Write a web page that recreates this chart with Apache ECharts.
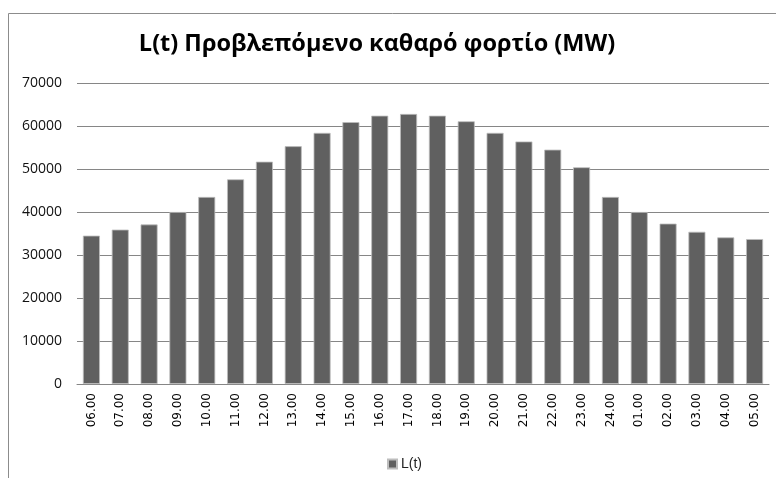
<!DOCTYPE html>
<html>
<head>
<meta charset="utf-8">
<script src="https://cdn.jsdelivr.net/npm/echarts@6/dist/echarts.min.js"></script>
<style>
  html, body { margin: 0; padding: 0; background: #fff; }
  #chart { width: 776px; height: 478px; }
</style>
</head>
<body>
<div id="chart"></div>
<script>
// Hourly forecast of net load L(t), in MW
const hours = ['06.00','07.00','08.00','09.00','10.00','11.00','12.00','13.00','14.00','15.00','16.00','17.00',
               '18.00','19.00','20.00','21.00','22.00','23.00','24.00','01.00','02.00','03.00','04.00','05.00'];
const loadMW = [34500, 35900, 37100, 40000, 43500, 47600, 51700, 55300, 58400, 60900, 62400, 62800,
                62400, 61100, 58400, 56400, 54500, 50400, 43500, 40000, 37300, 35400, 34100, 33700];
const yTicks = { min: 0, max: 70000, step: 10000 };

const chart = echarts.init(document.getElementById('chart'), null, { renderer: 'canvas' });

chart.setOption({
  animation: false,
  backgroundColor: '#ffffff',
  graphic: [{
    type: 'rect',
    shape: { x: 8.5, y: 13.5, width: 800, height: 500 },
    style: { fill: 'none', stroke: '#8c8c8c', lineWidth: 1 },
    silent: true
  }],
  title: {
    text: 'L(t) Προβλεπόμενο καθαρό φορτίο (MW)',
    left: 372,
    textAlign: 'center',
    top: 27,
    textStyle: { fontFamily: 'Open Sans', fontWeight: 'bold', fontSize: 23.5, color: '#000' }
  },
  legend: {
    data: ['L(t)'],
    left: 382,
    top: 452,
    itemWidth: 9,
    itemHeight: 9,
    itemGap: 4,
    icon: 'rect',
    textStyle: { fontFamily: 'Liberation Sans', fontSize: 14, color: '#222', padding: [0, 0, 0, -1] }
  },
  grid: { left: 77, right: 7, top: 83, bottom: 94 },
  xAxis: {
    type: 'category',
    data: hours,
    axisLine: { lineStyle: { color: '#868686', width: 1 } },
    axisTick: { show: false },
    axisLabel: {
      rotate: 90,
      margin: 9,
      fontFamily: 'DejaVu Sans',
      fontSize: 12,
      color: '#000'
    }
  },
  yAxis: {
    type: 'value',
    min: yTicks.min,
    max: yTicks.max,
    interval: yTicks.step,
    axisLine: { show: false },
    axisTick: { show: false },
    splitLine: { lineStyle: { color: '#868686', width: 1 } },
    axisLabel: {
      margin: 15,
      fontFamily: 'Open Sans',
      fontSize: 14,
      color: '#111',
      formatter: function (v) { return String(v); }
    }
  },
  series: [{
    name: 'L(t)',
    type: 'bar',
    data: loadMW,
    barCategoryGap: '41%',
    itemStyle: { color: '#606060', borderColor: '#bdbdbd', borderWidth: 0.8 }
  }]
});
</script>
</body>
</html>
